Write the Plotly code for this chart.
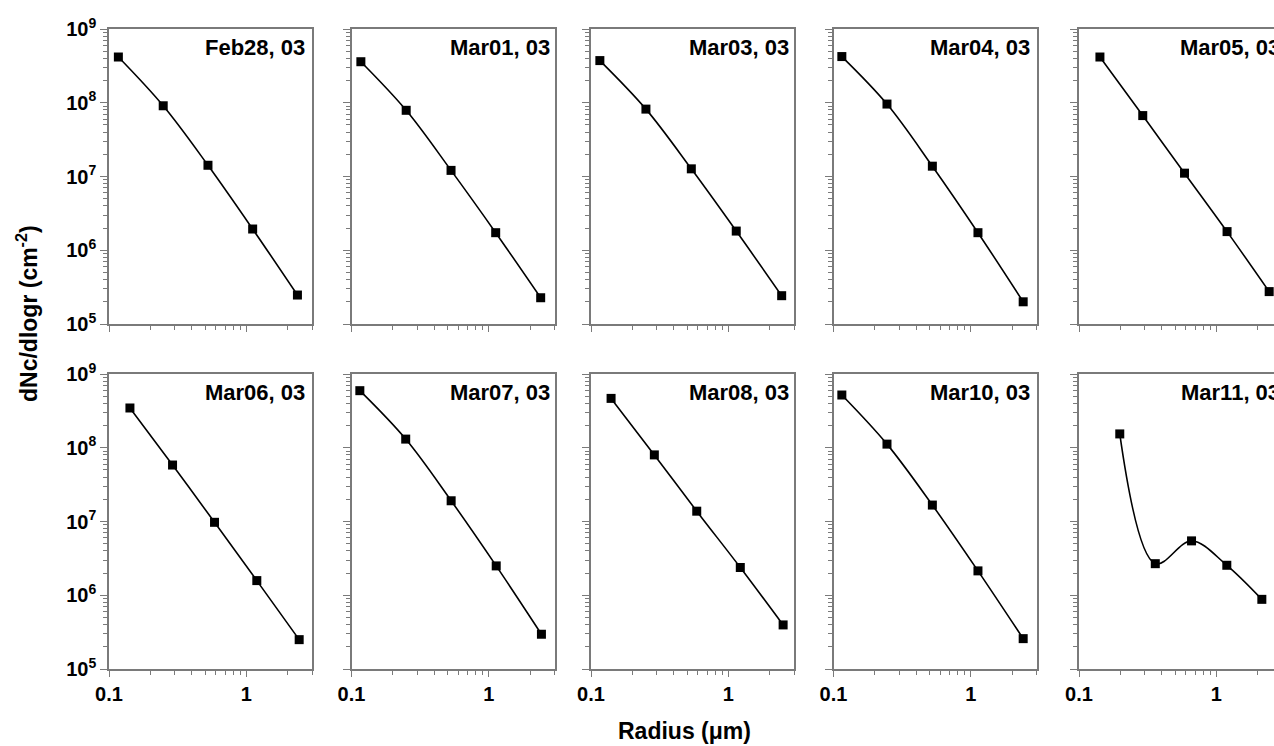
import numpy as np
import plotly.graph_objects as go

W, H = 1274, 746

# ---------------- data ----------------
dates = ["Feb28, 03", "Mar01, 03", "Mar03, 03", "Mar04, 03", "Mar05, 03",
         "Mar06, 03", "Mar07, 03", "Mar08, 03", "Mar10, 03", "Mar11, 03"]

radius_feb28 = [0.117, 0.248, 0.525, 1.11, 2.35]
dn_feb28 = [4.17e8, 9.1e7, 1.42e7, 1.94e6, 2.47e5]

radius_mar01 = [0.117, 0.25, 0.53, 1.12, 2.38]
dn_mar01 = [3.6e8, 7.9e7, 1.21e7, 1.73e6, 2.27e5]

radius_mar03 = [0.116, 0.251, 0.537, 1.14, 2.44]
dn_mar03 = [3.73e8, 8.2e7, 1.27e7, 1.82e6, 2.42e5]

radius_mar04 = [0.115, 0.245, 0.524, 1.125, 2.4]
dn_mar04 = [4.23e8, 9.6e7, 1.38e7, 1.73e6, 2.0e5]

radius_mar05 = [0.142, 0.291, 0.586, 1.195, 2.42]
dn_mar05 = [4.17e8, 6.7e7, 1.11e7, 1.79e6, 2.75e5]

radius_mar06 = [0.142, 0.29, 0.586, 1.19, 2.42]
dn_mar06 = [3.46e8, 5.83e7, 9.75e6, 1.58e6, 2.5e5]

radius_mar07 = [0.115, 0.248, 0.531, 1.13, 2.41]
dn_mar07 = [5.94e8, 1.31e8, 1.91e7, 2.5e6, 2.96e5]

radius_mar08 = [0.14, 0.289, 0.588, 1.22, 2.5]
dn_mar08 = [4.67e8, 8.0e7, 1.38e7, 2.38e6, 3.96e5]

radius_mar10 = [0.115, 0.245, 0.524, 1.125, 2.4]
dn_mar10 = [5.19e8, 1.12e8, 1.67e7, 2.14e6, 2.58e5]

radius_mar11 = [0.198, 0.359, 0.659, 1.19, 2.14]
dn_mar11 = [1.54e8, 2.68e6, 5.46e6, 2.55e6, 8.8e5]

radii = [radius_feb28, radius_mar01, radius_mar03, radius_mar04, radius_mar05,
         radius_mar06, radius_mar07, radius_mar08, radius_mar10, radius_mar11]
values = [dn_feb28, dn_mar01, dn_mar03, dn_mar04, dn_mar05,
          dn_mar06, dn_mar07, dn_mar08, dn_mar10, dn_mar11]

y_tickvals = [1e5, 1e6, 1e7, 1e8, 1e9]
y_ticktext = ["10<sup>5</sup>", "10<sup>6</sup>", "10<sup>7</sup>", "10<sup>8</sup>", "10<sup>9</sup>"]
x_tickvals = [0.1, 1]
x_ticktext = ["0.1", "1"]

# ---------------- layout geometry (pixels) ----------------
col_left = [109, 351.5, 591, 833.5, 1079]
panel_w = 203
row_top = [29, 374]
panel_h = 295
decade_px = panel_w / np.log10(30)  # 0.1 .. 3
title_right = [307, 551.5, 791, 1031.5, 1282]

FONT = "Liberation Sans, Arial, sans-serif"
AXC = "#7a7a7a"

y_minor = [m * 10 ** e for e in range(5, 9) for m in range(2, 10)]
x_minor = [0.2, 0.3, 0.4, 0.5, 0.6, 0.7, 0.8, 0.9, 2, 3]

fig = go.Figure()
annotations = []

for i in range(10):
    r, c = divmod(i, 5)
    idx = i + 1
    xa = "x" if idx == 1 else f"x{idx}"
    ya = "y" if idx == 1 else f"y{idx}"
    fig.add_trace(go.Scatter(
        x=radii[i], y=values[i], xaxis=xa, yaxis=ya,
        mode="lines+markers",
        line=dict(color="black", width=1.6, shape="spline", smoothing=1.0),
        marker=dict(symbol="square", size=9, color="black"),
        cliponaxis=False, showlegend=False,
    ))

    x0 = col_left[c]
    x1 = x0 + panel_w
    x1c = min(x1, W)
    xr_hi = -1 + (x1c - x0) / decade_px
    y0 = row_top[r]
    y1 = y0 + panel_h
    xdom = [x0 / W, x1c / W]
    ydom = [1 - y1 / H, 1 - y0 / H]

    xkey = "xaxis" if idx == 1 else f"xaxis{idx}"
    ykey = "yaxis" if idx == 1 else f"yaxis{idx}"
    fig.update_layout(**{
        xkey: dict(
            type="log", domain=xdom, range=[-1, xr_hi], anchor=ya,
            automargin=False,
            showgrid=False, zeroline=False,
            showline=True, linecolor=AXC, linewidth=1.5, mirror=True,
            ticks="outside", ticklen=6, tickwidth=1.3, tickcolor=AXC,
            tickmode="array", tickvals=x_tickvals, ticktext=x_ticktext,
            showticklabels=(r == 1),
            tickfont=dict(family=FONT, size=20, color="black", weight="bold"),
            minor=dict(tickmode="array", tickvals=x_minor, ticks="outside",
                       ticklen=4, tickwidth=1.1, tickcolor=AXC, showgrid=False),
        ),
        ykey: dict(
            type="log", domain=ydom, range=[5, 9], anchor=xa,
            automargin=False,
            showgrid=False, zeroline=False,
            showline=True, linecolor=AXC, linewidth=1.5,
            mirror=(c != 4),
            ticks="outside", ticklen=7, tickwidth=1.3, tickcolor=AXC,
            tickmode="array", tickvals=y_tickvals, ticktext=y_ticktext,
            showticklabels=(c == 0),
            tickfont=dict(family=FONT, size=20, color="black", weight="bold"),
            minor=dict(tickmode="array", tickvals=y_minor, ticks="outside",
                       ticklen=4, tickwidth=1.0, tickcolor=AXC, showgrid=False),
        ),
    })

    annotations.append(dict(
        text=dates[i], xref="paper", yref="paper",
        x=title_right[c] / W, y=1 - (y0 + 4) / H,
        xanchor="right", yanchor="top", showarrow=False,
        font=dict(family=FONT, size=22, color="black", weight="bold"),
    ))

annotations.append(dict(
    text="Radius (\u03bcm)", xref="paper", yref="paper",
    x=684 / W, y=1 - 731 / H, xanchor="center", yanchor="middle",
    showarrow=False,
    font=dict(family=FONT, size=23, color="black", weight="bold"),
))
annotations.append(dict(
    text="dNc/dlogr (cm<sup>-2</sup>)", xref="paper", yref="paper",
    x=27 / W, y=1 - 314 / H, xanchor="center", yanchor="middle",
    textangle=-90, showarrow=False,
    font=dict(family=FONT, size=23, color="black", weight="bold"),
))

fig.update_layout(
    width=W, height=H,
    margin=dict(l=0, r=0, t=0, b=0, pad=0, autoexpand=False),
    paper_bgcolor="white", plot_bgcolor="white",
    annotations=annotations,
    showlegend=False,
)

fig.write_html(
    "out.html",
    config={"responsive": False, "displayModeBar": False},
    post_script="document.body.style.margin='0';document.body.style.padding='0';"
                "document.documentElement.style.overflow='hidden';",
)
